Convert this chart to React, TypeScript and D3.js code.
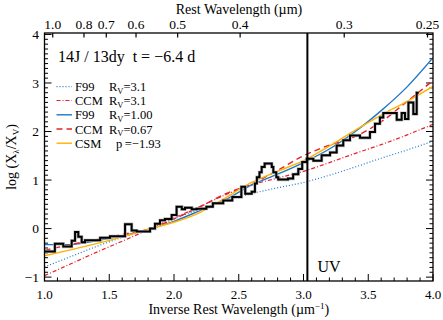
import React from 'react';
import * as d3 from 'd3';

// ---- data ----
const curveX = [1.0, 1.2, 1.4, 1.6, 1.82, 2.0, 2.2, 2.4, 2.6, 2.8, 3.0, 3.2, 3.4, 3.6, 3.8, 4.0];
const f99Rv31 = [-0.79, -0.58, -0.37, -0.18, 0.0, 0.2, 0.4, 0.57, 0.72, 0.84, 0.95, 1.1, 1.27, 1.45, 1.62, 1.8];
const ccmRv31 = [-0.97, -0.73, -0.49, -0.26, 0.0, 0.22, 0.45, 0.7, 0.9, 1.04, 1.18, 1.36, 1.55, 1.73, 1.93, 2.15];
const f99Rv100 = [-0.33, -0.33, -0.25, -0.15, 0.0, 0.15, 0.37, 0.6, 0.9, 1.12, 1.36, 1.64, 2.0, 2.43, 2.92, 3.52];
const ccmRv067 = [-0.45, -0.33, -0.23, -0.12, 0.0, 0.2, 0.45, 0.72, 0.92, 1.2, 1.5, 1.72, 1.9, 2.2, 2.62, 3.05];
const csmP193 = [-0.56, -0.44, -0.31, -0.17, 0.0, 0.13, 0.33, 0.64, 0.95, 1.18, 1.4, 1.7, 2.03, 2.34, 2.62, 2.93];

const obsX = [1.0, 1.08, 1.145, 1.21, 1.236, 1.261, 1.287, 1.313, 1.43, 1.506, 1.622, 1.673, 1.712, 1.815, 1.853, 1.892, 1.93, 1.982, 2.02, 2.06, 2.085, 2.137, 2.175, 2.25, 2.3, 2.38, 2.45, 2.52, 2.55, 2.6, 2.625, 2.64, 2.66, 2.677, 2.7, 2.755, 2.767, 2.79, 2.805, 2.88, 2.92, 2.96, 2.99, 3.025, 3.076, 3.14, 3.205, 3.256, 3.307, 3.359, 3.436, 3.513, 3.552, 3.59, 3.616, 3.72, 3.758, 3.784, 3.81, 3.848, 3.874, 3.89];
const obsY = [-0.47, -0.31, -0.37, -0.25, -0.07, -0.17, -0.28, -0.24, -0.19, -0.16, 0.09, -0.04, -0.06, 0.0, 0.1, 0.17, 0.2, 0.28, 0.45, 0.4, 0.43, 0.4, 0.41, 0.45, 0.52, 0.58, 0.65, 0.86, 0.72, 0.76, 0.93, 1.06, 1.16, 1.27, 1.34, 1.27, 1.16, 1.06, 1.01, 1.03, 1.12, 1.23, 1.37, 1.44, 1.4, 1.51, 1.57, 1.71, 1.82, 1.92, 1.87, 1.99, 2.16, 2.29, 2.38, 2.24, 2.38, 2.26, 2.6, 2.36, 2.8, 2.8];

const xMajorTicks = [1.0, 1.5, 2.0, 2.5, 3.0, 3.5, 4.0];
const yMajorTicks = [-1, 0, 1, 2, 3, 4];
const topWaveTicks = [1.0, 0.8, 0.7, 0.6, 0.5, 0.4, 0.3, 0.25];
const topWaveLabels = ['1.0', '0.8', '0.7', '0.6', '0.5', '0.4', '0.3', '0.25'];
const uvEdge = 3.03;

const legendNames = ['F99', 'CCM', 'F99', 'CCM', 'CSM'];
const legendParams = ['3.1', '3.1', '1.00', '0.67', '−1.93'];

const BLUE = '#1f78c6';
const RED = '#e8202a';
const ORANGE = '#ffb300';

const series = [
  { y: f99Rv31, color: BLUE, dash: '1,2', w: 1.2 },
  { y: ccmRv31, color: RED, dash: '4,2,1,2', w: 1.2 },
  { y: f99Rv100, color: BLUE, dash: null, w: 1.4 },
  { y: ccmRv067, color: RED, dash: '6,4', w: 1.4 },
  { y: csmP193, color: ORANGE, dash: null, w: 1.4 },
];

export default function App() {
  const W = 443, H = 320;
  const left = 44.5, right = 433, top = 33, bottom = 281;
  const x = d3.scaleLinear().domain([1, 4]).range([left, right]);
  const xTop = d3.scaleLinear().domain([0.934, 4.044]).range([left, right]);
  const y = d3.scaleLinear().domain([-1.08, 4.03]).range([bottom, top]);

  const line = d3.line<number>().x((_, i) => x(curveX[i])).curve(d3.curveMonotoneX);
  const obsLine = d3.line<number>().x((_, i) => x(obsX[i])).y((d) => y(d)).curve(d3.curveStepAfter);

  const xMinor = d3.range(1.0, 4.0001, 0.1);
  const yMinor = d3.range(-1.0, 4.0001, 0.1);
  const font = '"Liberation Serif", "Times New Roman", serif';

  const legendRows = [86.7, 100.5, 114.8, 129, 143.2];

  return (
    <svg width={W} height={H} style={{ position: 'absolute', left: 0, top: 0, background: '#fff' }} fontFamily={font}>
      <defs>
        <clipPath id="plotclip">
          <rect x={left} y={top} width={right - left} height={bottom - top} />
        </clipPath>
      </defs>

      {xMinor.map((v, i) => {
        const major = xMajorTicks.some((m) => Math.abs(m - v) < 1e-6);
        const len = major ? 7 : 3.5;
        return (
          <line key={'xb' + i} x1={x(v)} x2={x(v)} y1={bottom} y2={bottom - len} stroke="#000" strokeWidth={1} />
        );
      })}
      {yMinor.map((v, i) => {
        const major = yMajorTicks.some((m) => Math.abs(m - v) < 1e-6);
        const len = major ? 7 : 3.5;
        return (
          <g key={'yt' + i}>
            <line x1={left} x2={left + len} y1={y(v)} y2={y(v)} stroke="#000" strokeWidth={1} />
            <line x1={right} x2={right - len} y1={y(v)} y2={y(v)} stroke="#000" strokeWidth={1} />
          </g>
        );
      })}
      {topWaveTicks.map((w, i) => (
        <g key={'tw' + i}>
          <line x1={xTop(1 / w)} x2={xTop(1 / w)} y1={top} y2={top + 4.5} stroke="#000" strokeWidth={1.2} />
          <text x={xTop(1 / w)} y={28.5} fontSize={13.5} textAnchor="middle">{topWaveLabels[i]}</text>
        </g>
      ))}

      <g clipPath="url(#plotclip)">
        {series.map((s, i) => (
          <path
            key={'s' + i}
            d={line.y((d) => y(d))(s.y) || ''}
            fill="none"
            stroke={s.color}
            strokeWidth={s.w}
            strokeDasharray={s.dash || undefined}
          />
        ))}
        <path d={obsLine(obsY) || ''} fill="none" stroke="#bbb" strokeWidth={3.2} strokeLinejoin="miter" />
        <path d={obsLine(obsY) || ''} fill="none" stroke="#000" strokeWidth={2} strokeLinejoin="miter" />
      </g>

      <line x1={x(uvEdge)} x2={x(uvEdge)} y1={top} y2={bottom} stroke="#000" strokeWidth={2} />
      <text x={x(uvEdge) + 10} y={271.5} fontSize={16}>UV</text>

      <rect x={left} y={top} width={right - left} height={bottom - top} fill="none" stroke="#000" strokeWidth={1.3} />

      {xMajorTicks.map((v, i) => (
        <text key={'xl' + i} x={x(v)} y={299} fontSize={13} textAnchor="middle">{v.toFixed(1)}</text>
      ))}
      {yMajorTicks.map((v, i) => (
        <text key={'yl' + i} x={39} y={y(v) + 4.7} fontSize={13.5} textAnchor="end">{v < 0 ? '−' + Math.abs(v) : String(v)}</text>
      ))}

      <text x={(left + right) / 2} y={314} fontSize={14} textAnchor="middle">
        Inverse Rest Wavelength (µm<tspan dy={-5} fontSize={9}>−1</tspan><tspan dy={5}>)</tspan>
      </text>
      <text x={239} y={13.5} fontSize={14} textAnchor="middle">Rest Wavelength (µm)</text>
      <text transform={`translate(16,${(top + bottom) / 2}) rotate(-90)`} fontSize={14} textAnchor="middle">
        log (X<tspan dy={3} fontSize={9}>λ</tspan><tspan dy={-3}>/X</tspan><tspan dy={3} fontSize={9}>V</tspan><tspan dy={-3}>)</tspan>
      </text>

      <text x={58} y={61.5} fontSize={16}>14J / 13dy{'\u00a0\u00a0'}t = −6.4 d</text>

      {series.map((s, i) => (
        <g key={'lg' + i}>
          <line x1={56.5} x2={72} y1={legendRows[i]} y2={legendRows[i]} stroke={s.color} strokeWidth={s.w} strokeDasharray={s.dash || undefined} />
          <text x={75} y={legendRows[i] + 4.5} fontSize={12.5}>{legendNames[i]}</text>
          {i < 4 ? (
            <text x={109} y={legendRows[i] + 4.5} fontSize={12.5}>
              R<tspan dy={2.5} fontSize={8.5}>V</tspan><tspan dy={-2.5}>={legendParams[i]}</tspan>
            </text>
          ) : (
            <text x={116} y={legendRows[i] + 4.5} fontSize={12.5}>p{'\u2009'}={legendParams[i]}</text>
          )}
        </g>
      ))}
    </svg>
  );
}
